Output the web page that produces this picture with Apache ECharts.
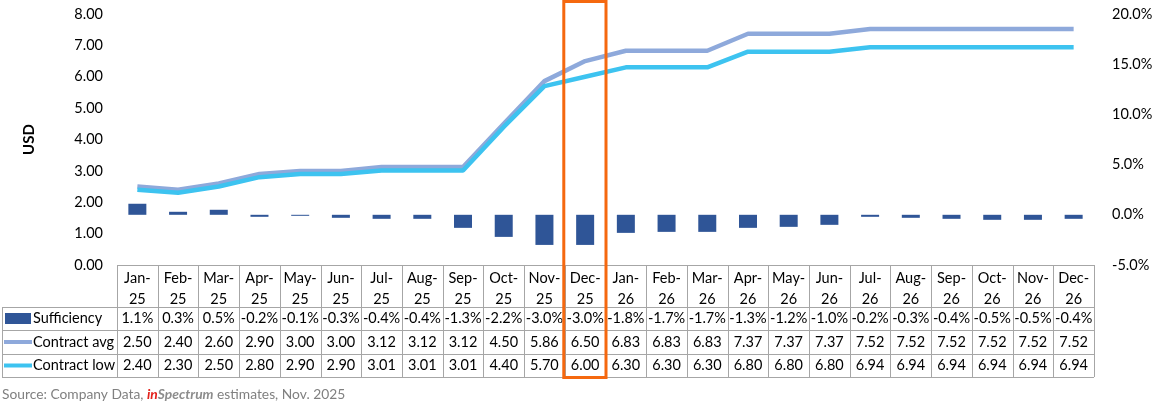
<!DOCTYPE html>
<html><head><meta charset="utf-8">
<script src="https://cdn.jsdelivr.net/npm/echarts@6/dist/echarts.min.js"></script>
<style>html,body{margin:0;padding:0;background:#fff}#c{width:1158px;height:411px}</style>
</head><body><div id="c"></div>
<script>
const months = ['Jan-25','Feb-25','Mar-25','Apr-25','May-25','Jun-25','Jul-25','Aug-25','Sep-25','Oct-25','Nov-25','Dec-25',
  'Jan-26','Feb-26','Mar-26','Apr-26','May-26','Jun-26','Jul-26','Aug-26','Sep-26','Oct-26','Nov-26','Dec-26'];
const sufficiency = [1.1,0.3,0.5,-0.2,-0.1,-0.3,-0.4,-0.4,-1.3,-2.2,-3.0,-3.0,-1.8,-1.7,-1.7,-1.3,-1.2,-1.0,-0.2,-0.3,-0.4,-0.5,-0.5,-0.4];
const contractAvg = [2.50,2.40,2.60,2.90,3.00,3.00,3.12,3.12,3.12,4.50,5.86,6.50,6.83,6.83,6.83,7.37,7.37,7.37,7.52,7.52,7.52,7.52,7.52,7.52];
const contractLow = [2.40,2.30,2.50,2.80,2.90,2.90,3.01,3.01,3.01,4.40,5.70,6.00,6.30,6.30,6.30,6.80,6.80,6.80,6.94,6.94,6.94,6.94,6.94,6.94];
const highlightMonth = 'Dec-25';

const W = 1158, H = 411;
const G = {left:117, right:64, top:14, bottom:146};
const FONT = 'Lato, "Liberation Sans", sans-serif';
const C_BAR = '#2F5597', C_AVG = '#8EA9DB', C_LOW = '#3DC3F0', C_GRID = '#A6A6A6', C_TXT = '#000000';

const chart = echarts.init(document.getElementById('c'), null, {renderer:'canvas'});

const plotW = W - G.left - G.right;
const colW = plotW / months.length;
const axisY = H - G.bottom;
const rowLines = [axisY, axisY+42, axisY+65, axisY+89, axisY+112];
const tableLeft = 2;

const graphics = [];
rowLines.forEach((y,i)=>{
  graphics.push({type:'line', shape:{x1:i===0?G.left:tableLeft, y1:y+0.5, x2:G.left+plotW, y2:y+0.5}, style:{stroke:C_GRID, lineWidth:1}, z:5});
});
graphics.push({type:'line', shape:{x1:tableLeft+0.5, y1:rowLines[1], x2:tableLeft+0.5, y2:rowLines[4]}, style:{stroke:C_GRID, lineWidth:1}, z:5});
for(let i=0;i<=months.length;i++){
  const x = Math.round(G.left + i*colW)+0.5;
  graphics.push({type:'line', shape:{x1:x, y1:rowLines[0], x2:x, y2:rowLines[4]}, style:{stroke:C_GRID, lineWidth:1}, z:5});
}
const rows = [
  {name:'Sufficiency', vals: sufficiency.map(v=>v.toFixed(1)+'%'), sw:'rect', color:C_BAR},
  {name:'Contract avg', vals: contractAvg.map(v=>v.toFixed(2)), sw:'line', color:C_AVG},
  {name:'Contract low', vals: contractLow.map(v=>v.toFixed(2)), sw:'line', color:C_LOW}
];
rows.forEach((r,ri)=>{
  const cy = (rowLines[ri+1]+rowLines[ri+2])/2;
  if(r.sw==='rect') graphics.push({type:'rect', shape:{x:5, y:cy-5.5, width:26, height:11}, style:{fill:r.color}, z:6});
  else graphics.push({type:'line', shape:{x1:4, y1:cy, x2:32, y2:cy}, style:{stroke:r.color, lineWidth:4}, z:6});
  graphics.push({type:'text', x:33, y:cy, style:{text:r.name, font:'14.5px '+FONT, fill:C_TXT, textVerticalAlign:'middle', textAlign:'left'}, z:6});
  r.vals.forEach((t,i)=>{
    graphics.push({type:'text', x:G.left+(i+0.5)*colW, y:cy, style:{text:t, font:'14.5px '+FONT, fill:C_TXT, textVerticalAlign:'middle', textAlign:'center'}, z:6});
  });
});
const hi = months.indexOf(highlightMonth);
graphics.push({type:'rect', shape:{x:G.left+hi*colW-1, y:1.5, width:colW+1.5, height:rowLines[4]-1}, style:{fill:null, stroke:'#F5680F', lineWidth:3}, z:20});
graphics.push({type:'text', left:2, top:388, style:{
  text:'{g|Source: Company Data, }{r|in}{b|Spectrum}{g| estimates, Nov. 2025}',
  rich:{
    g:{fontFamily:FONT, fontSize:13.8, fill:'#808080'},
    r:{fontFamily:FONT, fontSize:13.8, fill:'#E3221C', fontWeight:'bold', fontStyle:'italic'},
    b:{fontFamily:FONT, fontSize:13.8, fill:'#8C8C8C', fontWeight:'bold', fontStyle:'italic'}
  }}, z:6});

chart.setOption({
  animation:false,
  backgroundColor:'#fff',
  grid:{left:G.left, right:G.right, top:G.top, bottom:G.bottom, containLabel:false},
  xAxis:{type:'category', data:months, boundaryGap:true,
    axisLine:{show:false}, axisTick:{show:false},
    axisLabel:{interval:0, margin:3, fontFamily:FONT, fontSize:14.5, color:C_TXT, lineHeight:21,
      formatter:(v)=>{const p=v.split('-'); return p[0]+'-\n'+p[1];}}},
  yAxis:[
    {type:'value', min:0, max:8, interval:1, splitLine:{show:false}, axisLine:{show:false}, axisTick:{show:false},
     axisLabel:{margin:14, fontFamily:FONT, fontSize:14.5, color:C_TXT, formatter:(v)=>v.toFixed(2)},
     name:'USD', nameLocation:'middle', nameRotate:90, nameGap:80,
     nameTextStyle:{fontFamily:FONT, fontSize:15, fontWeight:'bold', color:C_TXT}},
    {type:'value', min:-5, max:20, interval:5, splitLine:{show:false}, axisLine:{show:false}, axisTick:{show:false},
     axisLabel:{margin:18, fontFamily:FONT, fontSize:14.5, color:C_TXT, formatter:(v)=>v.toFixed(1)+'%'}}
  ],
  series:[
    {name:'Sufficiency', type:'bar', yAxisIndex:1, data:sufficiency, barWidth:18, itemStyle:{color:C_BAR}},
    {name:'Contract avg', type:'line', yAxisIndex:0, data:contractAvg, symbol:'none', lineStyle:{color:C_AVG, width:4.5}, itemStyle:{color:C_AVG}},
    {name:'Contract low', type:'line', yAxisIndex:0, data:contractLow, symbol:'none', lineStyle:{color:C_LOW, width:4.5}, itemStyle:{color:C_LOW}}
  ],
  graphic:graphics
});
</script></body></html>
